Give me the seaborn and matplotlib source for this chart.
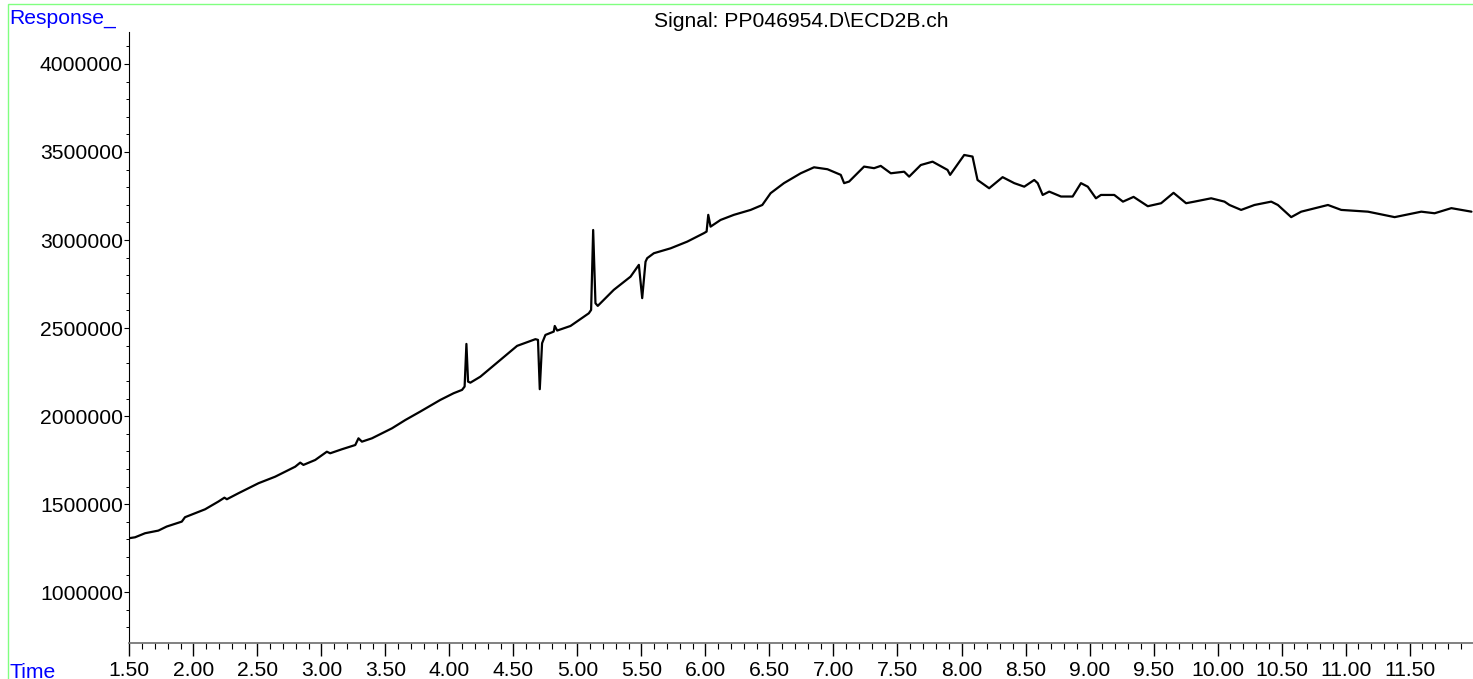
import matplotlib
matplotlib.use("Agg")
import matplotlib.pyplot as plt
from matplotlib.patches import Rectangle
from matplotlib.ticker import MultipleLocator, FormatStrFormatter
import numpy as np
import pandas as pd
import seaborn as sns

TITLE = "Signal: PP046954.D\\ECD2B.ch"

# retention time (min)
time_min = [
    1.500, 1.545, 1.623, 1.727, 1.792, 1.910, 1.935, 2.092, 2.196, 2.243,
    2.262, 2.352, 2.509, 2.639, 2.796, 2.835, 2.860, 2.952, 3.043, 3.069,
    3.161, 3.265, 3.290, 3.317, 3.395, 3.552, 3.656, 3.773, 3.929, 4.033,
    4.099, 4.119, 4.133, 4.146, 4.164, 4.242, 4.398, 4.529, 4.672, 4.692,
    4.706, 4.724, 4.750, 4.815, 4.823, 4.842, 4.946, 5.089, 5.107, 5.123,
    5.141, 5.159, 5.284, 5.415, 5.480, 5.506, 5.532, 5.545, 5.597, 5.728,
    5.858, 5.988, 6.009, 6.022, 6.040, 6.118, 6.222, 6.353, 6.444, 6.509,
    6.613, 6.744, 6.848, 6.953, 7.057, 7.083, 7.122, 7.187, 7.239, 7.317,
    7.369, 7.448, 7.552, 7.591, 7.682, 7.774, 7.891, 7.911, 8.021, 8.086,
    8.125, 8.216, 8.321, 8.412, 8.490, 8.568, 8.595, 8.634, 8.685, 8.777,
    8.868, 8.933, 8.986, 9.050, 9.089, 9.193, 9.261, 9.344, 9.455, 9.559,
    9.656, 9.754, 9.819, 9.950, 10.054, 10.093, 10.184, 10.288, 10.419, 10.471,
    10.575, 10.653, 10.862, 10.966, 11.175, 11.383, 11.591, 11.695, 11.826, 11.983,
]

# detector response
response = [
    1307000, 1312000, 1335000, 1350000, 1373000, 1401000, 1426000, 1471000, 1515000, 1537000,
    1528000, 1562000, 1619000, 1656000, 1713000, 1736000, 1723000, 1751000, 1798000, 1789000,
    1812000, 1836000, 1874000, 1855000, 1874000, 1931000, 1978000, 2026000, 2092000, 2130000,
    2149000, 2168000, 2410000, 2196000, 2190000, 2224000, 2319000, 2399000, 2437000, 2433000,
    2153000, 2414000, 2461000, 2480000, 2512000, 2486000, 2512000, 2584000, 2603000, 3057000,
    2641000, 2626000, 2717000, 2792000, 2859000, 2670000, 2877000, 2897000, 2925000, 2953000,
    2991000, 3039000, 3048000, 3143000, 3076000, 3114000, 3143000, 3171000, 3199000, 3266000,
    3323000, 3379000, 3413000, 3402000, 3370000, 3323000, 3332000, 3379000, 3417000, 3408000,
    3421000, 3379000, 3388000, 3360000, 3426000, 3445000, 3398000, 3370000, 3483000, 3474000,
    3341000, 3294000, 3357000, 3323000, 3303000, 3341000, 3323000, 3256000, 3275000, 3247000,
    3247000, 3323000, 3303000, 3237000, 3256000, 3256000, 3218000, 3245000, 3192000, 3209000,
    3268000, 3209000, 3218000, 3237000, 3218000, 3199000, 3171000, 3199000, 3218000, 3199000,
    3130000, 3161000, 3199000, 3171000, 3161000, 3130000, 3161000, 3152000, 3181000, 3161000,
]

df = pd.DataFrame({"Time": time_min, "Response": response})

sns.set_style("white")
plt.rcParams["font.family"] = ["Liberation Sans", "DejaVu Sans"]
plt.rcParams["text.color"] = "black"
plt.rcParams["xtick.color"] = "black"
plt.rcParams["ytick.color"] = "black"
plt.rcParams["xtick.labelcolor"] = "black"
plt.rcParams["ytick.labelcolor"] = "black"

W, H = 1473, 679
FS = 15.2
fig = plt.figure(figsize=(W / 100, H / 100), dpi=100)
ax = fig.add_axes([129.3 / W, 1 - 643.3 / H, 1 - 129.3 / W, (643.3 - 31.7) / H])

sns.lineplot(data=df, x="Time", y="Response", ax=ax, color="black",
             linewidth=1.6, estimator=None, sort=False)

ax.set_xlim(1.5, 11.995)
ax.set_ylim(710000, 4183000)
ax.set_xlabel("")
ax.set_ylabel("")

ax.xaxis.set_major_locator(MultipleLocator(0.5))
ax.xaxis.set_minor_locator(MultipleLocator(0.1))
ax.xaxis.set_major_formatter(FormatStrFormatter("%.2f"))
ax.yaxis.set_major_locator(MultipleLocator(500000))
ax.yaxis.set_minor_locator(MultipleLocator(100000))
ax.yaxis.set_major_formatter(FormatStrFormatter("%d"))

ax.tick_params(axis="x", which="major", direction="out", length=9.4, width=1,
               color="black", labelcolor="black", labelsize=FS, pad=3.0)
ax.tick_params(axis="x", which="minor", direction="out", length=4.3, width=0.8,
               color="black")
ax.tick_params(axis="y", which="major", direction="out", length=3.6, width=0.8,
               color="black", labelcolor="black", labelsize=FS, pad=1)
ax.tick_params(axis="y", which="minor", direction="out", length=2.4, width=0.7,
               color="black")
ax.xaxis.set_ticks_position("bottom")
ax.yaxis.set_ticks_position("left")

for side in ["top", "right"]:
    ax.spines[side].set_visible(False)
ax.spines["left"].set_color("black")
ax.spines["left"].set_linewidth(0.8)
ax.spines["bottom"].set_color("#777777")
ax.spines["bottom"].set_linewidth(1.3)
ax.grid(False)

ax.set_title(TITLE, fontsize=FS, pad=3.5, color="black")

fig.text(9 / W, 1 - 23.5 / H, "Response_", color="#0000ff", fontsize=FS,
         ha="left", va="baseline")
fig.text(9 / W, 1 - 678 / H, "Time", color="#0000ff", fontsize=FS,
         ha="left", va="baseline")

# light green frame around the page
fig.add_artist(Rectangle((8 / W, -0.02), 1.05, 1 - 4 / H + 0.02,
                         transform=fig.transFigure, fill=False,
                         edgecolor="#80ff80", linewidth=1.0, clip_on=False))

fig.savefig("out.png", dpi=100)
